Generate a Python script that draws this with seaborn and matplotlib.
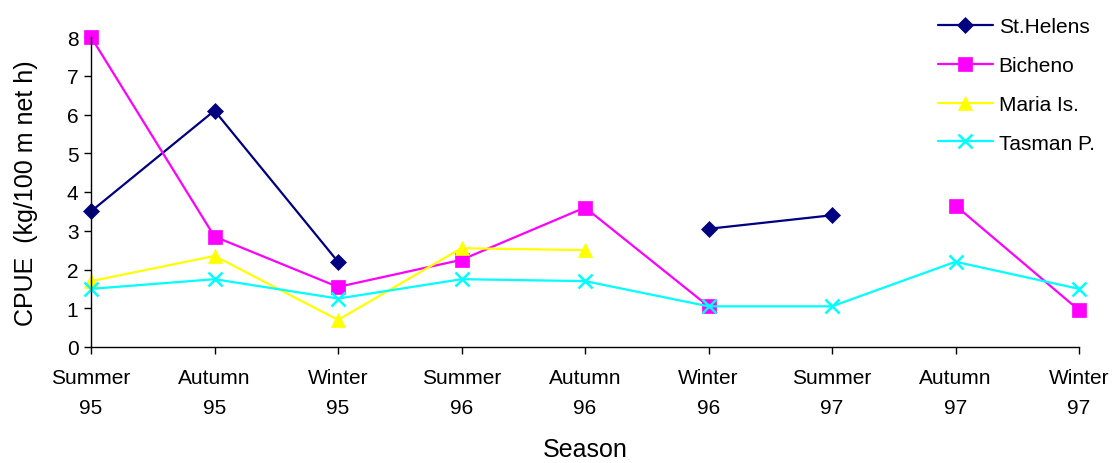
import numpy as np
import pandas as pd
import matplotlib
matplotlib.use("Agg")
import matplotlib.pyplot as plt
import seaborn as sns

# data
seasons = ["Summer\n95", "Autumn\n95", "Winter\n95", "Summer\n96", "Autumn\n96",
           "Winter\n96", "Summer\n97", "Autumn\n97", "Winter\n97"]
st_helens = [3.5, 6.1, 2.2, np.nan, np.nan, 3.05, 3.4, np.nan, np.nan]
bicheno = [8.0, 2.85, 1.55, 2.25, 3.6, 1.05, np.nan, 3.65, 0.95]
maria = [1.7, 2.35, 0.7, 2.55, 2.5, np.nan, np.nan, np.nan, np.nan]
tasman = [1.5, 1.75, 1.25, 1.75, 1.7, 1.05, 1.05, 2.2, 1.5]

series_names = ["St.Helens", "Bicheno", "Maria Is.", "Tasman P."]
colors = ["#000080", "#FF00FF", "#FFFF00", "#00FFFF"]
markers = ["D", "s", "^", "x"]
msizes = [8, 10, 10, 10]

sns.set_theme(style="ticks")
plt.rcParams["font.family"] = ["Liberation Sans", "DejaVu Sans"]
plt.rcParams["text.color"] = "black"
plt.rcParams["axes.labelcolor"] = "black"
plt.rcParams["xtick.color"] = "black"
plt.rcParams["ytick.color"] = "black"

fig = plt.figure(figsize=(11.12, 4.64), dpi=100)
ax = fig.add_axes([91 / 1112, 116 / 464, (1079 - 91) / 1112, (348 - 38) / 464])

# long table, with a segment id so gaps in the data break the line
rows = []
for name, vals in zip(series_names, [st_helens, bicheno, maria, tasman]):
    seg = 0
    for i, v in enumerate(vals):
        if np.isnan(v):
            seg += 1
            continue
        rows.append({"pos": i, "cpue": v, "site": name, "seg": f"{name}_{seg}"})
df = pd.DataFrame(rows)

for name, c, m, ms in zip(series_names, colors, markers, msizes):
    sub = df[df["site"] == name]
    mew = 1.8 if m == "x" else 0.5
    sns.lineplot(data=sub, x="pos", y="cpue", units="seg", estimator=None,
                 color=c, marker=m, markersize=ms, markeredgecolor=c,
                 markeredgewidth=mew, linewidth=1.6,
                 ax=ax, clip_on=False, label=None)
    ax.plot([], [], color=c, marker=m, markersize=ms, markeredgecolor=c,
            markeredgewidth=mew, linewidth=1.6, label=name)

ax.set_xlim(0, len(seasons) - 1)
ax.set_ylim(0, 8)
ax.set_xticks(range(len(seasons)))
ax.set_xticklabels(seasons, fontsize=15, linespacing=1.75)
ax.set_yticks(range(0, 9))
ax.tick_params(axis="y", labelsize=15, direction="out", length=5, width=1, pad=4)
ax.tick_params(axis="x", direction="out", length=5, width=1, pad=10)
ax.set_xlabel("Season", fontsize=18, labelpad=14)
ax.set_ylabel("CPUE  (kg/100 m net h)", fontsize=18, labelpad=21)
for s in ["top", "right"]:
    ax.spines[s].set_visible(False)
for s in ["left", "bottom"]:
    ax.spines[s].set_color("black")
    ax.spines[s].set_linewidth(1)

handles, labels = ax.get_legend_handles_labels()
keep = [(h, l) for h, l in zip(handles, labels) if l in series_names]
ax.legend([h for h, _ in keep], [l for _, l in keep], loc="upper left",
          bbox_to_anchor=(930 / 1112, 1 - 10 / 464), bbox_transform=fig.transFigure,
          frameon=False, fontsize=15, handlelength=2.6, labelspacing=0.95,
          handletextpad=0.3, borderaxespad=0)

fig.savefig("out.png", dpi=100)
